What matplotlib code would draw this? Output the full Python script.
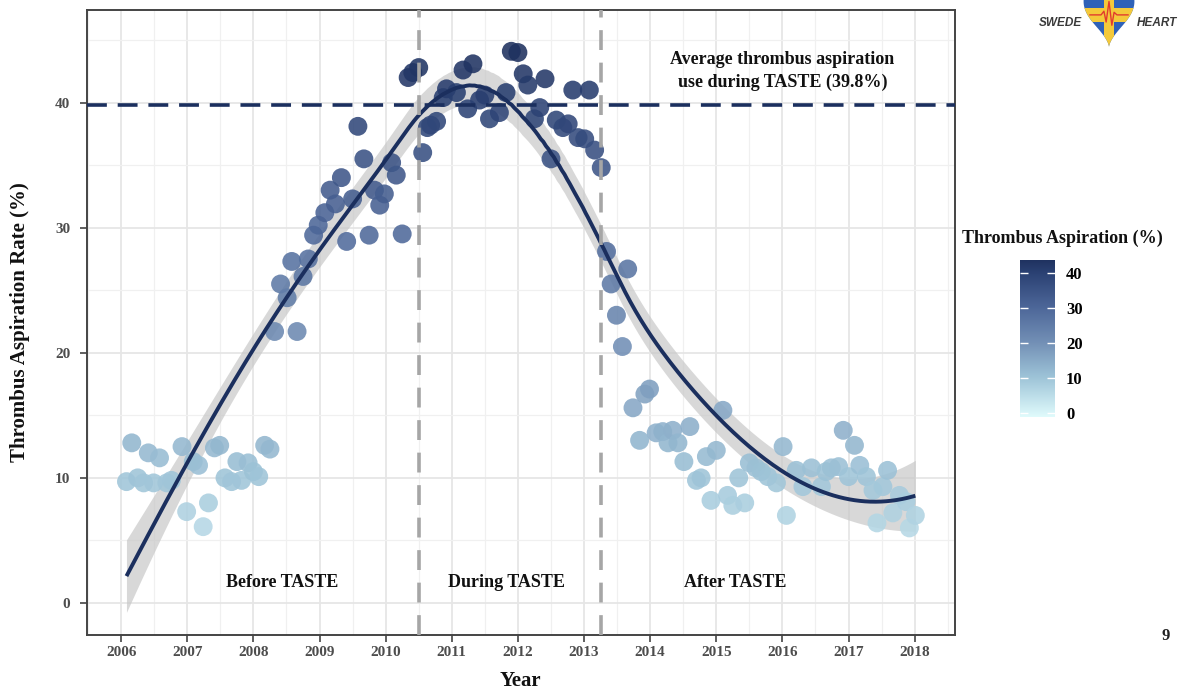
import numpy as np
import matplotlib
matplotlib.use("Agg")
import matplotlib.pyplot as plt
from matplotlib.colors import LinearSegmentedColormap, Normalize
from matplotlib.path import Path
from matplotlib.patches import PathPatch, Rectangle

# ---------------- data ----------------
years = [
    2006.08, 2006.16, 2006.25, 2006.34, 2006.41, 2006.49, 2006.58, 2006.69, 2006.76, 2006.92,
    2006.99, 2007.09, 2007.17, 2007.24, 2007.32, 2007.41, 2007.49, 2007.57, 2007.67, 2007.75,
    2007.82, 2007.92, 2008.00, 2008.08, 2008.17, 2008.25, 2008.32, 2008.41, 2008.51, 2008.58,
    2008.66, 2008.75, 2008.83, 2008.91, 2008.98, 2009.08, 2009.16, 2009.24, 2009.33, 2009.41,
    2009.50, 2009.58, 2009.67, 2009.75, 2009.83, 2009.91, 2009.98, 2010.09, 2010.16, 2010.25,
    2010.34, 2010.41, 2010.50, 2010.56, 2010.63, 2010.68, 2010.77, 2010.87, 2010.92, 2011.07,
    2011.17, 2011.24, 2011.32, 2011.42, 2011.50, 2011.57, 2011.72, 2011.82, 2011.90, 2012.00,
    2012.08, 2012.15, 2012.25, 2012.33, 2012.41, 2012.50, 2012.58, 2012.68, 2012.76, 2012.83,
    2012.91, 2013.01, 2013.08, 2013.16, 2013.26, 2013.34, 2013.41, 2013.49, 2013.58, 2013.66,
    2013.74, 2013.84, 2013.92, 2013.99, 2014.09, 2014.19, 2014.27, 2014.34, 2014.42, 2014.51,
    2014.60, 2014.70, 2014.77, 2014.85, 2014.92, 2015.00, 2015.10, 2015.17, 2015.25, 2015.34,
    2015.43, 2015.50, 2015.60, 2015.68, 2015.78, 2015.91, 2016.01, 2016.06, 2016.21, 2016.31,
    2016.44, 2016.59, 2016.66, 2016.74, 2016.85, 2016.92, 2017.00, 2017.09, 2017.17, 2017.27,
    2017.37, 2017.43, 2017.52, 2017.59, 2017.67, 2017.77, 2017.87, 2017.92, 2018.01,
]
rates = [
    9.7, 12.8, 10.0, 9.6, 12.0, 9.6, 11.6, 9.6, 9.8, 12.5,
    7.3, 11.3, 11.0, 6.1, 8.0, 12.4, 12.6, 10.0, 9.7, 11.3,
    9.8, 11.2, 10.5, 10.1, 12.6, 12.3, 21.7, 25.5, 24.4, 27.3,
    21.7, 26.1, 27.5, 29.4, 30.2, 31.2, 33.0, 31.9, 34.0, 28.9,
    32.3, 38.1, 35.5, 29.4, 33.0, 31.8, 32.7, 35.2, 34.2, 29.5,
    42.0, 42.4, 42.8, 36.0, 38.0, 38.2, 38.5, 40.4, 41.1, 40.8,
    42.6, 39.5, 43.1, 40.2, 40.6, 38.7, 39.2, 40.8, 44.1, 44.0,
    42.3, 41.4, 38.7, 39.6, 41.9, 35.5, 38.6, 38.0, 38.3, 41.0,
    37.2, 37.1, 41.0, 36.2, 34.8, 28.1, 25.5, 23.0, 20.5, 26.7,
    15.6, 13.0, 16.7, 17.1, 13.6, 13.7, 12.8, 13.8, 12.8, 11.3,
    14.1, 9.8, 10.0, 11.7, 8.2, 12.2, 15.4, 8.6, 7.8, 10.0,
    8.0, 11.2, 10.8, 10.5, 10.1, 9.6, 12.5, 7.0, 10.6, 9.3,
    10.8, 9.3, 10.5, 10.8, 10.9, 13.8, 10.1, 12.6, 11.0, 10.1,
    9.0, 6.4, 9.3, 10.6, 7.2, 8.6, 8.1, 6.0, 7.0,
]
year_ticks = list(range(2006, 2019))
rate_ticks = [0, 10, 20, 30, 40]
taste_start = 2010.5
taste_end = 2013.25
taste_average = 39.8
period_labels = ["Before TASTE", "During TASTE", "After TASTE"]
period_label_x = [2008.43, 2011.82, 2015.28]
legend_ticks = [0, 10, 20, 30, 40]

x = np.array(years)
y = np.array(rates)

# ---------------- loess smoother (span 0.75, degree 2) with 95% band ----------------
def loess_matrix(xd, xq, span=0.75):
    n = len(xd)
    q = int(np.floor(n * span))
    rows = []
    for x0 in xq:
        d = np.abs(xd - x0)
        h = np.sort(d)[q - 1]
        u = np.clip(d / h, 0, 1)
        w = (1 - u ** 3) ** 3
        B = np.vstack([np.ones_like(xd), xd - x0, (xd - x0) ** 2]).T
        A = (B.T * w) @ B
        l = np.linalg.solve(A, (B.T * w))[0]
        rows.append(l)
    return np.array(rows)

L_data = loess_matrix(x, x)
resid = y - L_data @ y
I = np.eye(len(x))
M = (I - L_data).T @ (I - L_data)
delta1 = np.trace(M)
sigma = np.sqrt(np.sum(resid ** 2) / delta1)
tcrit = 1.98
xg = np.linspace(x.min(), x.max(), 300)
L_grid = loess_matrix(x, xg)
fit = L_grid @ y
se = sigma * np.sqrt(np.sum(L_grid ** 2, axis=1))

# ---------------- colour scale ----------------
vmin, vmax = -1.2, 43.8
stops = [(-1.2, "#E0FBFC"), (10, "#9EC4D8"), (20, "#7390B6"), (30, "#4D6799"),
         (40, "#2B4173"), (43.8, "#1E315F")]
cmap = LinearSegmentedColormap.from_list(
    "ta", [((v - vmin) / (vmax - vmin), c) for v, c in stops])
norm = Normalize(vmin=vmin, vmax=vmax)

# ---------------- figure ----------------
W, H = 1178, 689
fig = plt.figure(figsize=(W / 100, H / 100), dpi=100)
serif = "Liberation Serif"
plt.rcParams["font.family"] = serif

ax = fig.add_axes([86.8 / W, 1 - 635 / H, (955 - 86.8) / W, (635 - 10) / H])
ax.set_xlim(2005.48, 2018.61)
ax.set_ylim(-2.56, 47.4)

ax.set_xticks(year_ticks)
ax.set_xticklabels([str(v) for v in year_ticks])
ax.set_yticks(rate_ticks)
ax.set_xticks(np.arange(2005.5, 2018.6, 1.0), minor=True)
ax.set_yticks([5, 15, 25, 35, 45], minor=True)
ax.grid(which="major", color="#E6E6E6", linewidth=1.3, zorder=0)
ax.grid(which="minor", color="#F0F0F0", linewidth=0.9, zorder=0)
ax.set_axisbelow(True)
ax.tick_params(which="minor", length=0)
ax.tick_params(which="major", direction="out", length=5, width=1.2, color="#444444",
               labelsize=11, labelcolor="#4D4D4D")
ax.tick_params(axis="x", pad=3)
ax.tick_params(axis="y", pad=7)
for lab in ax.get_xticklabels() + ax.get_yticklabels():
    lab.set_fontweight("bold")
for s in ax.spines.values():
    s.set_color("#444444")
    s.set_linewidth(1.4)

# smoother band
ax.fill_between(xg, fit - tcrit * se, fit + tcrit * se, color="#C8C8C8", alpha=0.7, linewidth=0, zorder=2)

# points
ax.scatter(x, y, c=y, cmap=cmap, norm=norm, s=185, alpha=0.88, linewidths=0, zorder=3)
ax.plot(xg, fit, color="#1B2F5E", linewidth=2.8, zorder=4, solid_capstyle="butt")

# reference lines
ax.axvline(taste_start, color="#A6A6A6", linewidth=2.6, dashes=(5.5, 3.5), zorder=5)
ax.axvline(taste_end, color="#A6A6A6", linewidth=2.6, dashes=(5.5, 3.5), zorder=5)
ax.axhline(taste_average, color="#1B2F5E", linewidth=2.6, dashes=(5.5, 3), zorder=5)

ax.text(2016.0, 42.55, "Average thrombus aspiration\nuse during TASTE (39.8%)", ha="center", va="center",
        fontsize=13, fontweight="bold", color="#111111", linespacing=1.45, zorder=6)
for lbl, px in zip(period_labels, period_label_x):
    ax.text(px, 1.6, lbl, ha="center", va="center", fontsize=13, fontweight="bold", color="#111111", zorder=6)

fig.text(520 / W, 1 - 681 / H, "Year", ha="center", va="center", fontsize=15, fontweight="bold", color="#111111")
fig.text(20 / W, 1 - 322 / H, "Thrombus Aspiration Rate (%)", ha="center", va="center", rotation=90,
         fontsize=15, fontweight="bold", color="#111111")

# colour bar legend
cax = fig.add_axes([1020 / W, 1 - 417 / H, 35 / W, 157 / H])
grad = np.linspace(vmin, vmax, 256).reshape(-1, 1)
cax.imshow(grad, aspect="auto", origin="lower", cmap=cmap, norm=norm,
           extent=[0, 1, vmin, vmax])
cax.set_xlim(0, 1)
cax.set_ylim(vmin, vmax)
cax.set_xticks([])
cax.yaxis.tick_right()
cax.set_yticks(legend_ticks)
cax.set_yticklabels([str(v) for v in legend_ticks], fontsize=12, fontweight="bold")
cax.tick_params(axis="y", direction="in", length=6, width=1.0, color="white", left=True, right=True, pad=8)
for s in cax.spines.values():
    s.set_visible(False)
fig.text(962 / W, 1 - 238 / H, "Thrombus Aspiration (%)", ha="left", va="center",
         fontsize=13, fontweight="bold", color="#111111")

# SWEDEHEART logo
fig.text(1082 / W, 1 - 23 / H, "SWEDE", ha="right", va="center", fontsize=8.5,
         fontweight="bold", style="italic", family="Liberation Sans", color="#3A3A3A")
fig.text(1137 / W, 1 - 23 / H, "HEART", ha="left", va="center", fontsize=8.5,
         fontweight="bold", style="italic", family="Liberation Sans", color="#3A3A3A")
lax = fig.add_axes([1082 / W, 1 - 48 / H, 54 / W, 66 / H])
lax.set_xlim(-17, 17)
lax.set_ylim(-17.5, 13)
lax.axis("off")
t = np.linspace(0, 2 * np.pi, 200)
hx = 16 * np.sin(t) ** 3
hy = 13 * np.cos(t) - 5 * np.cos(2 * t) - 2 * np.cos(3 * t) - np.cos(4 * t)
heart = PathPatch(Path(np.column_stack([hx, hy])), facecolor="#2F62B8", edgecolor="none")
lax.add_patch(heart)
for r in [Rectangle((-3.2, -20), 6.4, 40), Rectangle((-20, -5.5), 40, 6.5)]:
    r.set_facecolor("#F4C93A")
    r.set_edgecolor("none")
    lax.add_patch(r)
    r.set_clip_path(heart)
ecg = lax.plot([-12, -5, -3.2, -1.8, 0, 1.8, 3.2, 5, 12], [-2.2, -2.2, -0.5, -5.5, 4, -7, -1, -2.2, -2.2],
               color="#E23B2E", linewidth=1.0)[0]
ecg.set_clip_path(heart)

fig.text(1161 / W, 1 - 636 / H, "9", ha="left", va="center", fontsize=12, fontweight="bold", color="#222222")

fig.savefig("out.png", dpi=100)
